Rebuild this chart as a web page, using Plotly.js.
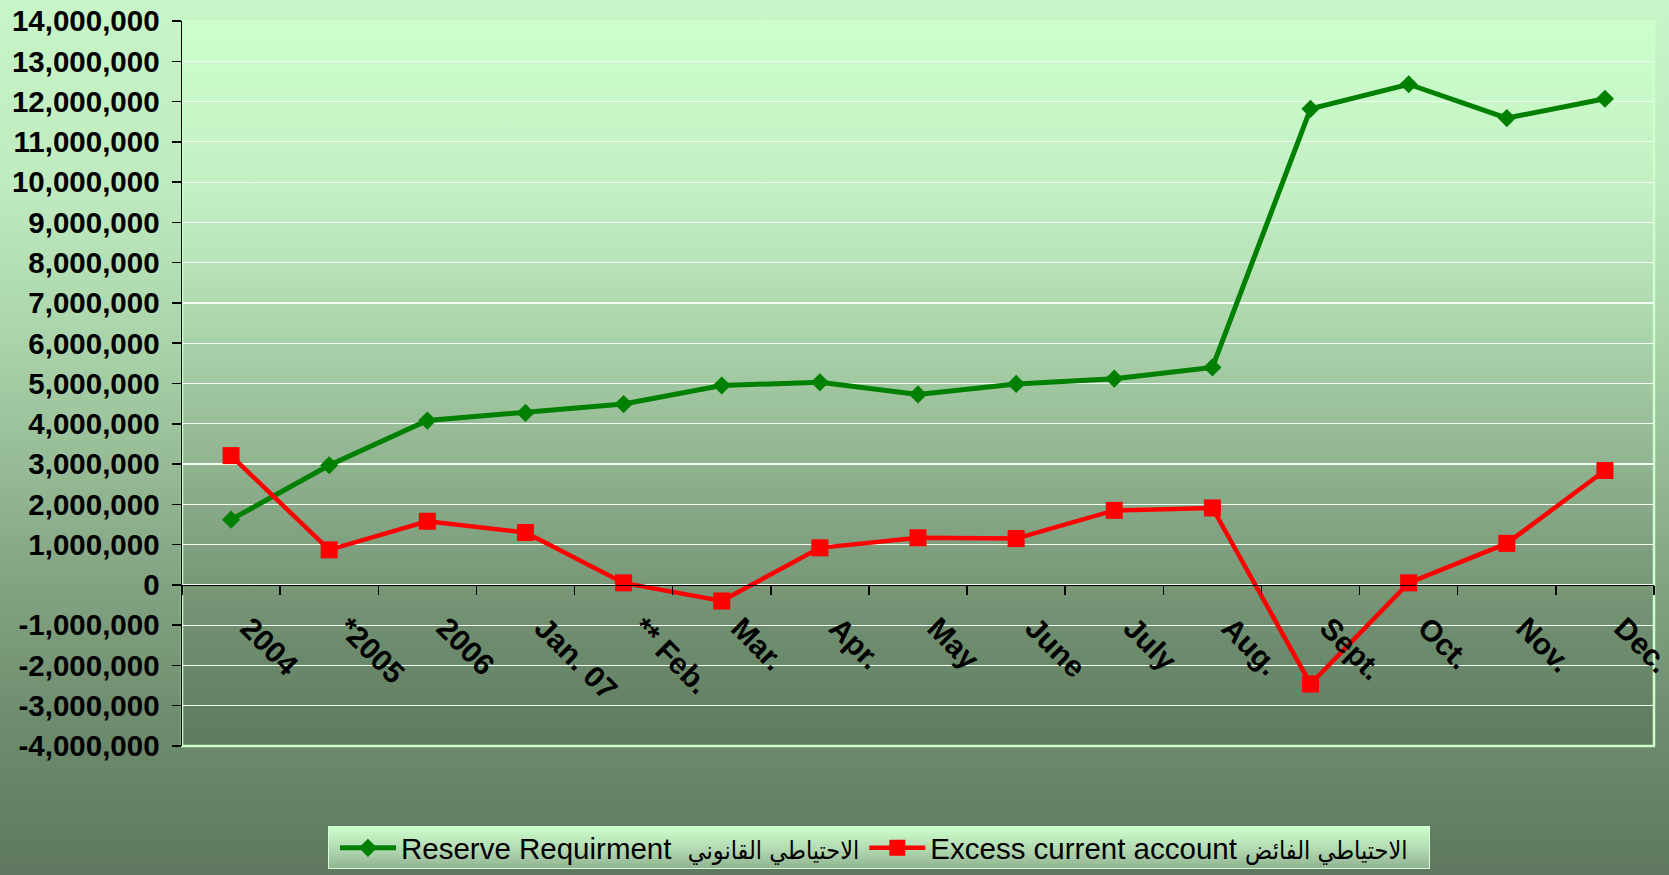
<!DOCTYPE html>
<html>
<head>
<meta charset="utf-8">
<script src="https://cdn.plot.ly/plotly-3.0.1.min.js"></script>
<style>
  html, body { margin: 0; padding: 0; }
  #wrap {
    position: relative; width: 1669px; height: 875px; overflow: hidden;
    background: linear-gradient(to bottom, #c8f6c8 0%, #bfeabf 22%, #a6cfa6 42%, #89ab89 62%, #6e8d6e 82%, #5f785f 100%);
  }
  #plotbg {
    position: absolute; left: 182px; top: 21px; width: 1473px; height: 725px;
    background: linear-gradient(to bottom, #ccffcc 0%, #c3eec3 25%, #a9d1a9 45%, #8aac8a 65%, #6e8d6e 85%, #5f7a5f 100%);
  }
  #legbg {
    position: absolute; left: 328px; top: 826px; width: 1100px; height: 41px;
    border: 1px solid #d4ffd4;
    background: linear-gradient(to bottom, #ccffcc 0%, #b4dcb4 50%, #92b492 100%);
  }
  #chart { position: absolute; left: 0; top: 0; width: 1669px; height: 875px; }
</style>
</head>
<body>
<div id="wrap">
  <div id="plotbg"></div>
  <div id="legbg"></div>
  <div id="chart"></div>
</div>
<script>
const categories = ['2004', '*2005', '2006', 'Jan. 07', '** Feb.', 'Mar.', 'Apr.', 'May', 'June', 'July', 'Aug.', 'Sept.', 'Oct.', 'Nov.', 'Dec.'];
const reserveRequirement = [1620000, 2970000, 4080000, 4270000, 4490000, 4950000, 5030000, 4730000, 4990000, 5120000, 5400000, 11820000, 12430000, 11590000, 12070000];
const excessCurrentAccount = [3210000, 870000, 1580000, 1300000, 50000, -400000, 920000, 1170000, 1150000, 1850000, 1910000, -2460000, 50000, 1030000, 2840000];
const seriesNamesEnglish = ['Reserve Requirment', 'Excess current account'];
const seriesNamesArabic = ['الاحتياطي القانوني', 'الاحتياطي الفائض'];
const yTickValues = [-4000000, -3000000, -2000000, -1000000, 0, 1000000, 2000000, 3000000, 4000000, 5000000, 6000000, 7000000, 8000000, 9000000, 10000000, 11000000, 12000000, 13000000, 14000000];
const yTickText = yTickValues.map(v => v.toLocaleString('en-US'));

const arabicStyle = 'font-family:DejaVu Sans Condensed,DejaVu Sans;font-size:25px';
function legendName(i, gap) {
  return seriesNamesEnglish[i] + gap + '<span style="' + arabicStyle + '">' + seriesNamesArabic[i] + '</span>';
}

const yTickFont = { family: 'Liberation Sans, Arial, sans-serif', size: 29.5, color: '#000000', weight: 'bold' };
const xTickFont = { family: 'Liberation Sans, Arial, sans-serif', size: 30, color: '#000000', weight: 'bold' };

const traces = [
  {
    type: 'scatter', mode: 'lines+markers', name: legendName(0, '  '),
    x: categories, y: reserveRequirement,
    line: { color: '#008000', width: 5 },
    marker: { symbol: 'diamond', size: 14, color: '#008000' }
  },
  {
    type: 'scatter', mode: 'lines+markers', name: legendName(1, ' '),
    x: categories, y: excessCurrentAccount,
    line: { color: '#ff0000', width: 4.5 },
    marker: { symbol: 'square', size: 17, color: '#ff0000' }
  }
];

const layout = {
  width: 1669, height: 875,
  paper_bgcolor: 'rgba(0,0,0,0)', plot_bgcolor: 'rgba(0,0,0,0)',
  margin: { l: 182, r: 15, t: 21, b: 129, autoexpand: false },
  showlegend: true,
  legend: {
    orientation: 'h', x: 0.1039, y: -0.105, xanchor: 'left', yanchor: 'top',
    bgcolor: 'rgba(0,0,0,0)', borderwidth: 0,
    font: { family: 'Liberation Sans, Arial, DejaVu Sans, sans-serif', size: 29.5, color: '#000000' },
    itemwidth: 56, traceorder: 'normal'
  },
  xaxis: {
    type: 'category', range: [-0.5, 14.5], autorange: false, anchor: 'free', position: 4 / 18,
    showline: true, linecolor: '#000000', linewidth: 1.5,
    ticks: 'outside', tickson: 'boundaries', ticklen: 9, tickwidth: 1.5, tickcolor: '#000000',
    tickangle: 45, tickfont: xTickFont, showgrid: false, zeroline: false,
    ticklabelstandoff: 12, ticklabelshift: 18
  },
  yaxis: {
    range: [-4000000, 14000000], autorange: false, tickvals: yTickValues, ticktext: yTickText,
    showline: true, linecolor: '#000000', linewidth: 1.5,
    ticks: 'outside', ticklen: 9, tickwidth: 1.5, tickcolor: '#000000',
    tickfont: yTickFont, showgrid: true, gridcolor: '#f2fff2', gridwidth: 1.2,
    zeroline: false, ticklabelstandoff: 6
  },
  shapes: [
    { type: 'rect', xref: 'paper', yref: 'paper', x0: 0, x1: 1, y0: 0, y1: 1,
      line: { color: '#ccffcc', width: 2.5 }, layer: 'below' }
  ]
};

Plotly.newPlot('chart', traces, layout, { displayModeBar: false, staticPlot: true });
</script>
</body>
</html>
